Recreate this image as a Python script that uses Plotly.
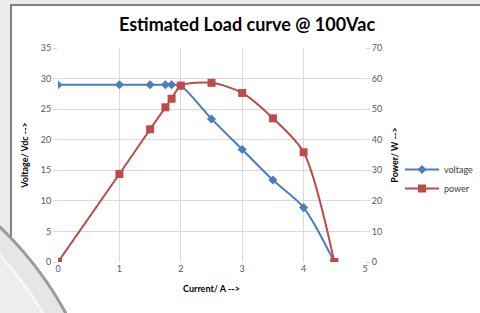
import plotly.graph_objects as go

current = [0, 1, 1.5, 1.75, 1.85, 2, 2.5, 3, 3.5, 4, 4.5]
voltage = [29, 29, 29, 29, 29, 28.8, 23.4, 18.4, 13.4, 8.9, 0]
power = [0, 28.8, 43.4, 50.6, 53.4, 57.7, 58.6, 55.3, 47.0, 35.9, 0]

title = "Estimated Load curve @ 100Vac"
font = "Lato, 'Liberation Sans', sans-serif"

# pixel -> paper helpers for decorative background shapes
L, R, T, B = 58, 365, 48, 262
def px(x):
    return (x - L) / (R - L)
def py(y):
    return (B - y) / (B - T)

fig = go.Figure()
fig.add_trace(go.Scatter(
    x=current, y=voltage, name="voltage", mode="lines+markers",
    line=dict(color="#4a7ebb", width=2, shape="spline", smoothing=0.8),
    marker=dict(symbol="diamond", size=7, color="#4a7ebb"),
))
fig.add_trace(go.Scatter(
    x=current, y=power, name="power", mode="lines+markers", yaxis="y2",
    line=dict(color="#be4b48", width=2, shape="spline", smoothing=0.8),
    marker=dict(symbol="square", size=8, color="#be4b48"),
))

shapes = [
    dict(type="rect", xref="paper", yref="paper", layer="below",
         x0=px(11), x1=px(490), y0=py(330), y1=py(5),
         fillcolor="white", line=dict(color="#808080", width=2)),
    dict(type="circle", xref="paper", yref="paper", layer="below",
         x0=px(-592), x1=px(108), y0=py(830), y1=py(130),
         fillcolor="#e6e6e6", line=dict(color="#9a9a9a", width=3)),
    dict(type="circle", xref="paper", yref="paper", layer="below",
         x0=px(-572), x1=px(88), y0=py(810), y1=py(150),
         fillcolor="#ededed", line=dict(color="#f7f7f7", width=3)),
]

fig.update_layout(
    width=480, height=313,
    margin=dict(l=L, r=480 - R, t=T, b=313 - B, autoexpand=False),
    paper_bgcolor="#ebebeb", plot_bgcolor="rgba(0,0,0,0)",
    shapes=shapes,
    title=dict(text=title, x=(247) / 480, xanchor="center", y=1 - 25 / 313, yanchor="middle",
               font=dict(family=font, size=18, color="#000000", weight="bold")),
    font=dict(family=font, size=9, color="#595959"),
    xaxis=dict(range=[0, 5], dtick=1, showgrid=True, gridcolor="#d9d9d9", gridwidth=1,
               zeroline=False, showline=False, ticks="", automargin=False,
               tickfont=dict(size=9, color="#595959"),
               title=dict(text="Current/ A -->", font=dict(size=9, color="#000000", weight="bold"), standoff=12)),
    yaxis=dict(range=[0, 35], dtick=5, showgrid=True, gridcolor="#d9d9d9", gridwidth=1,
               zeroline=False, showline=False, ticks="outside", ticklen=4, tickcolor="#d9d9d9",
               automargin=False,
               tickfont=dict(size=9, color="#595959"),
               title=dict(text="Voltage/ Vdc -->", font=dict(size=9, color="#000000", weight="bold"), standoff=10)),
    yaxis2=dict(range=[0, 70], dtick=10, overlaying="y", side="right", showgrid=False,
                zeroline=False, showline=False, ticks="outside", ticklen=4, tickcolor="#d9d9d9",
                automargin=False,
                tickfont=dict(size=9, color="#595959"),
                title=dict(text="Power/ W -->", font=dict(size=9, color="#000000", weight="bold"), standoff=10)),
    legend=dict(x=px(400), xanchor="left", y=py(179), yanchor="middle",
                bgcolor="rgba(0,0,0,0)", font=dict(size=9, color="#404040"),
                itemwidth=34, tracegroupgap=2),
    showlegend=True,
)

fig.write_html("out.html", config={"displayModeBar": False},
               post_script="document.body.style.margin='0px';")
